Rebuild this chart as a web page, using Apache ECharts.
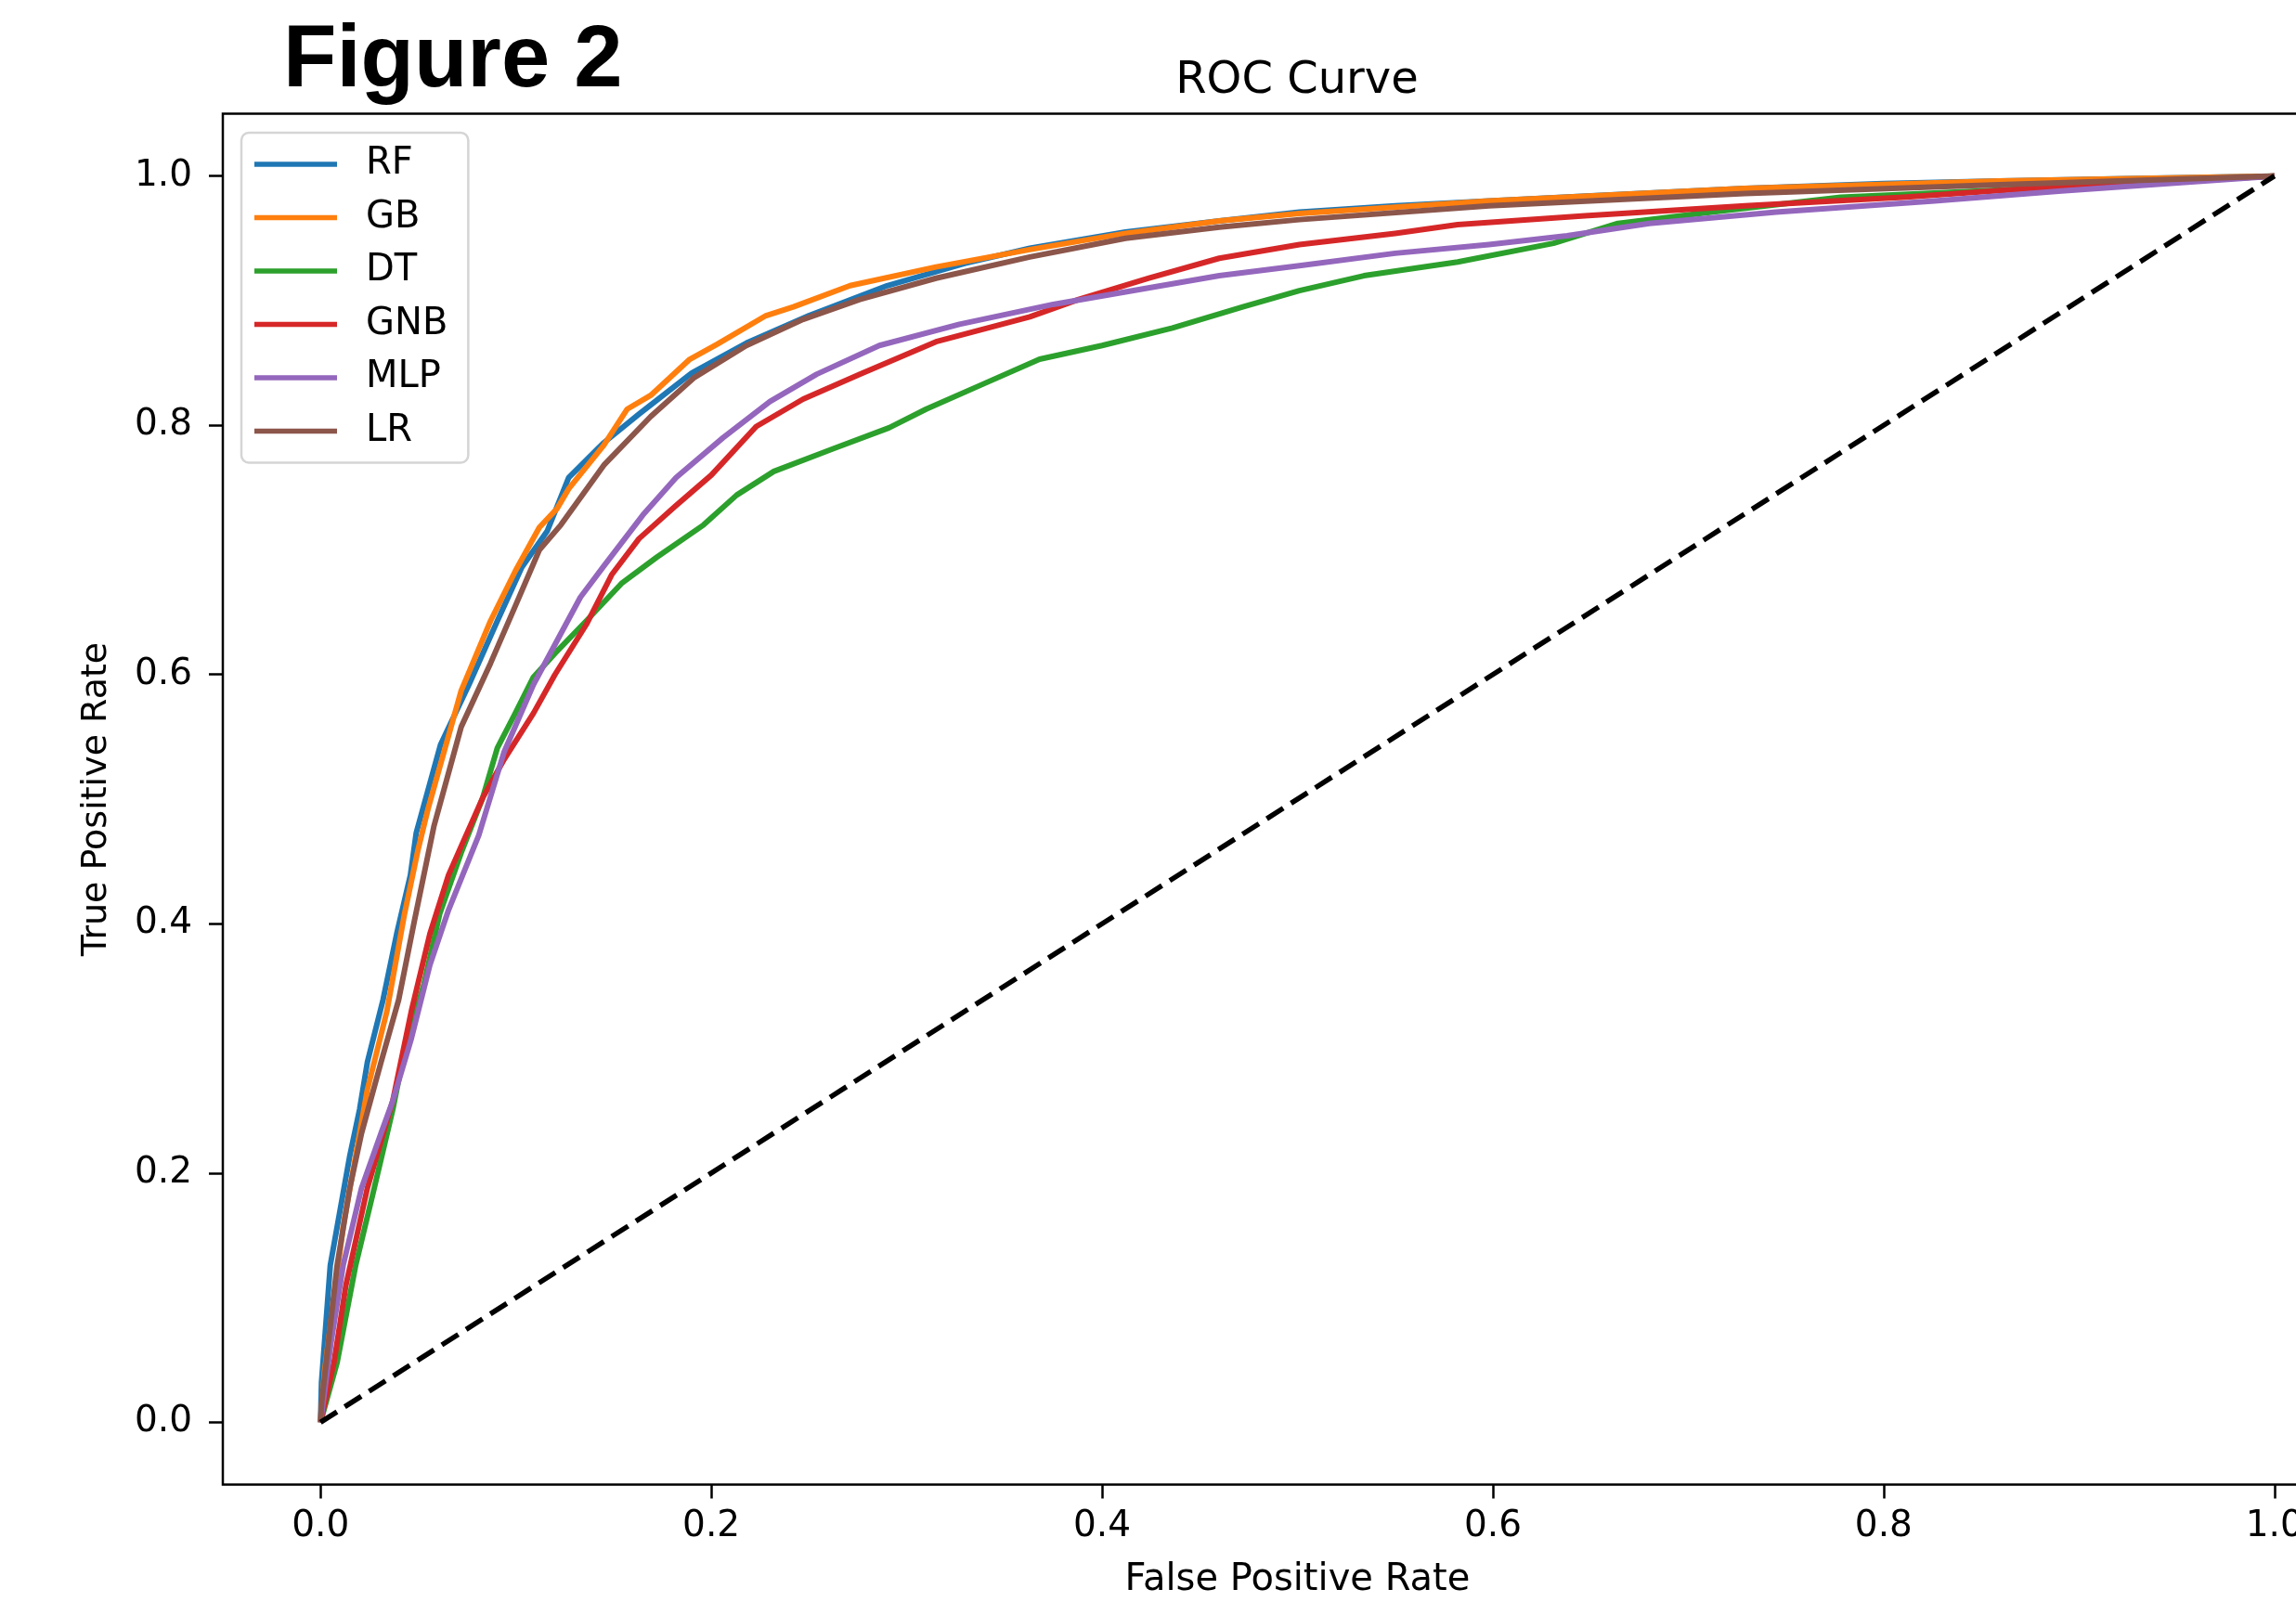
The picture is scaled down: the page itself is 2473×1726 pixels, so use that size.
<!DOCTYPE html>
<html>
<head>
<meta charset="utf-8">
<script src="https://cdn.jsdelivr.net/npm/echarts@6/dist/echarts.min.js"></script>
<style>
  html, body { margin: 0; padding: 0; background: #ffffff; overflow: hidden; }
  #chart { width: 2473px; height: 1726px; }
</style>
</head>
<body>
<div id="chart"></div>
<script>
// ---- data ----
const seriesNames = ['RF', 'GB', 'DT', 'GNB', 'MLP', 'LR'];
const seriesColors = ['#1f77b4', '#ff7f0e', '#2ca02c', '#d62728', '#9467bd', '#8c564b'];

const rfFpr = [0, 0.0005, 0.005, 0.010, 0.015, 0.020, 0.024, 0.032, 0.039, 0.046, 0.049, 0.0615, 0.076, 0.0905, 0.103, 0.116, 0.127, 0.145, 0.163, 0.190, 0.218, 0.250, 0.290, 0.330, 0.363, 0.412, 0.460, 0.501, 0.550, 0.598, 0.650, 0.729, 0.800, 0.859, 0.930, 1.0];
const rfTpr = [0, 0.032, 0.126, 0.170, 0.214, 0.251, 0.289, 0.339, 0.392, 0.439, 0.473, 0.544, 0.592, 0.643, 0.686, 0.715, 0.758, 0.786, 0.809, 0.842, 0.866, 0.888, 0.912, 0.930, 0.942, 0.955, 0.964, 0.971, 0.976, 0.980, 0.984, 0.990, 0.994, 0.996, 0.998, 1.0];

const gbFpr = [0, 0.002, 0.0116, 0.024, 0.034, 0.043, 0.050, 0.055, 0.072, 0.087, 0.0997, 0.112, 0.121, 0.127, 0.145, 0.157, 0.169, 0.189, 0.203, 0.228, 0.242, 0.271, 0.315, 0.363, 0.412, 0.460, 0.501, 0.598, 0.729, 0.859, 1.0];
const gbTpr = [0, 0.040, 0.157, 0.267, 0.330, 0.408, 0.460, 0.492, 0.587, 0.643, 0.683, 0.718, 0.733, 0.749, 0.784, 0.813, 0.824, 0.853, 0.865, 0.888, 0.895, 0.912, 0.927, 0.941, 0.954, 0.964, 0.970, 0.980, 0.990, 0.996, 1.0];

const dtFpr = [0, 0.0085, 0.018, 0.0275, 0.037, 0.043, 0.053, 0.061, 0.072, 0.083, 0.0905, 0.0997, 0.109, 0.120, 0.136, 0.154, 0.172, 0.196, 0.213, 0.232, 0.262, 0.291, 0.310, 0.339, 0.368, 0.400, 0.436, 0.472, 0.501, 0.534, 0.582, 0.631, 0.664, 0.712, 0.778, 0.850, 0.924, 1.0];
const dtTpr = [0, 0.048, 0.126, 0.188, 0.251, 0.298, 0.352, 0.408, 0.457, 0.501, 0.541, 0.569, 0.598, 0.617, 0.643, 0.673, 0.694, 0.720, 0.744, 0.763, 0.781, 0.798, 0.813, 0.833, 0.853, 0.864, 0.878, 0.895, 0.908, 0.920, 0.931, 0.946, 0.962, 0.971, 0.983, 0.988, 0.994, 1.0];

const gnbFpr = [0, 0.0069, 0.013, 0.024, 0.037, 0.0465, 0.056, 0.0655, 0.0725, 0.083, 0.094, 0.109, 0.120, 0.136, 0.149, 0.163, 0.1815, 0.200, 0.223, 0.247, 0.276, 0.315, 0.363, 0.388, 0.424, 0.460, 0.501, 0.550, 0.582, 0.647, 0.729, 0.810, 0.875, 1.0];
const gnbTpr = [0, 0.048, 0.110, 0.188, 0.258, 0.330, 0.392, 0.439, 0.464, 0.501, 0.532, 0.569, 0.600, 0.640, 0.680, 0.709, 0.735, 0.760, 0.799, 0.821, 0.841, 0.867, 0.887, 0.901, 0.918, 0.934, 0.945, 0.954, 0.961, 0.968, 0.976, 0.983, 0.990, 1.0];

const mlpFpr = [0, 0.0053, 0.0116, 0.021, 0.031, 0.037, 0.0465, 0.056, 0.0655, 0.081, 0.094, 0.109, 0.121, 0.133, 0.145, 0.165, 0.182, 0.206, 0.230, 0.254, 0.286, 0.327, 0.375, 0.412, 0.460, 0.501, 0.550, 0.598, 0.638, 0.680, 0.745, 0.826, 0.891, 1.0];
const mlpTpr = [0, 0.063, 0.126, 0.188, 0.232, 0.258, 0.308, 0.367, 0.411, 0.471, 0.538, 0.592, 0.627, 0.662, 0.687, 0.728, 0.758, 0.790, 0.819, 0.841, 0.864, 0.881, 0.897, 0.907, 0.920, 0.928, 0.938, 0.945, 0.952, 0.962, 0.971, 0.980, 0.988, 1.0];

const lrFpr = [0, 0.0006, 0.0085, 0.015, 0.021, 0.031, 0.040, 0.048, 0.058, 0.072, 0.087, 0.0997, 0.112, 0.123, 0.145, 0.169, 0.191, 0.218, 0.247, 0.276, 0.315, 0.363, 0.412, 0.460, 0.501, 0.598, 0.729, 0.859, 1.0];
const lrTpr = [0, 0.016, 0.126, 0.188, 0.232, 0.289, 0.339, 0.402, 0.478, 0.558, 0.609, 0.655, 0.700, 0.720, 0.768, 0.807, 0.838, 0.864, 0.885, 0.901, 0.918, 0.935, 0.950, 0.959, 0.965, 0.976, 0.986, 0.993, 1.0];

const chanceFpr = [0, 1];
const chanceTpr = [0, 1];

const tickValues = [0, 0.2, 0.4, 0.6, 0.8, 1.0];
const tickLabels = ['0.0', '0.2', '0.4', '0.6', '0.8', '1.0'];

const figureLabel = 'Figure 2';
const chartTitle = 'ROC Curve';
const xAxisTitle = 'False Positive Rate';
const yAxisTitle = 'True Positive Rate';

// ---- build chart ----
const fprs = [rfFpr, gbFpr, dtFpr, gnbFpr, mlpFpr, lrFpr];
const tprs = [rfTpr, gbTpr, dtTpr, gnbTpr, mlpTpr, lrTpr];
const pair = (xs, ys) => xs.map((x, i) => [x, ys[i]]);
const labelFor = (v) => {
  const i = tickValues.findIndex(t => Math.abs(t - v) < 1e-9);
  return i >= 0 ? tickLabels[i] : '';
};

const FONT = 'DejaVu Sans';
const series = seriesNames.map((name, k) => ({
  name: name,
  type: 'line',
  data: pair(fprs[k], tprs[k]),
  showSymbol: false,
  symbol: 'none',
  color: seriesColors[k],
  lineStyle: { width: 6, color: seriesColors[k], join: 'round' },
  emphasis: { disabled: true },
  z: 2
}));
series.push({
  name: 'chance',
  type: 'line',
  data: pair(chanceFpr, chanceTpr),
  showSymbol: false,
  symbol: 'none',
  color: '#000000',
  lineStyle: { width: 5.5, color: '#000000', type: [21, 10] },
  emphasis: { disabled: true },
  z: 2
});

const chart = echarts.init(document.getElementById('chart'), null, { renderer: 'canvas' });
chart.setOption({
  animation: false,
  backgroundColor: '#ffffff',
  title: [
    {
      text: figureLabel,
      left: 305, top: 20,
      padding: 0,
      textStyle: { fontFamily: 'Liberation Sans', fontWeight: 'bold', fontSize: 94, color: '#000' }
    },
    {
      text: chartTitle,
      left: 1397, top: 64,
      textAlign: 'center',
      padding: 0,
      textStyle: { fontFamily: FONT, fontWeight: 'normal', fontSize: 48, color: '#000' }
    }
  ],
  legend: {
    data: seriesNames,
    orient: 'vertical',
    left: 260, top: 143,
    padding: [14, 22, 14, 14],
    itemGap: 17.5,
    itemWidth: 89,
    itemHeight: 5.5,
    icon: 'rect',
    itemStyle: { borderWidth: 0 },
    textStyle: { fontFamily: FONT, fontSize: 40, color: '#000', lineHeight: 40, padding: [0, 0, 0, 26] },
    backgroundColor: '#ffffff',
    borderColor: '#d5d5d5',
    borderWidth: 2.5,
    borderRadius: 8,
    selectedMode: false
  },
  grid: {
    left: 240, top: 122.5, width: 2315, height: 1477,
    show: true, borderColor: '#000000', borderWidth: 2.5, backgroundColor: 'transparent',
    containLabel: false,
    outerBoundsMode: 'none'
  },
  xAxis: {
    type: 'value', min: -0.05, max: 1.05,
    name: xAxisTitle, nameLocation: 'middle', nameGap: 83,
    nameTextStyle: { fontFamily: FONT, fontSize: 40, color: '#000' },
    axisLine: { show: false, onZero: false },
    axisTick: { show: true, inside: false, length: 15, customValues: tickValues, lineStyle: { color: '#000', width: 2.5 } },
    axisLabel: { show: true, margin: 26, customValues: tickValues, formatter: labelFor, fontFamily: FONT, fontSize: 39, color: '#000' },
    splitLine: { show: false }
  },
  yAxis: {
    type: 'value', min: -0.05, max: 1.05,
    name: yAxisTitle, nameLocation: 'middle', nameGap: 117, nameRotate: 90,
    nameTextStyle: { fontFamily: FONT, fontSize: 38, color: '#000' },
    axisLine: { show: false, onZero: false },
    axisTick: { show: true, inside: false, length: 15, customValues: tickValues, lineStyle: { color: '#000', width: 2.5 } },
    axisLabel: { show: true, margin: 33, customValues: tickValues, formatter: labelFor, fontFamily: FONT, fontSize: 39, color: '#000' },
    splitLine: { show: false }
  },
  series: series
});
</script>
</body>
</html>
